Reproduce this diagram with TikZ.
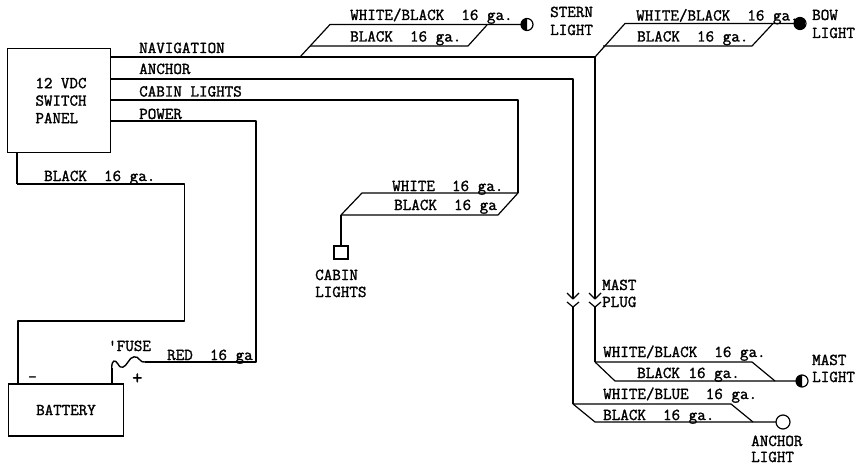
\documentclass[tikz,border=0pt]{standalone}
\usepackage{fontspec}
\setmonofont{Latin Modern Mono}[BoldFont={Latin Modern Mono},BoldFeatures={FakeBold=1.6}]
\newcommand{\gap}{\ \ }
\newcommand{\nudge}{\hspace*{4pt}}

\begin{document}
\begin{tikzpicture}[x=1pt,y=-1pt,
  wire/.style={line width=1.2pt,line join=round},
  heavywire/.style={line width=1.8pt,line join=round},
  unitbox/.style={draw,line width=1.5pt,inner sep=0pt,font=\ttfamily\bfseries\fontsize{16.5}{17.5}\selectfont,align=left},
  lbl/.style={anchor=base west,inner sep=0pt,font=\ttfamily\bfseries\fontsize{16.6}{16}\selectfont},
  lamp/.style={circle,draw,line width=1.2pt,minimum size=12pt,inner sep=0pt,outer sep=0pt,fill=white}]
\useasboundingbox (0,0) rectangle (866,465);

% Boxes
\node[unitbox,minimum width=103pt,minimum height=104pt] (panel) at (59,100.5) {\nudge 12 VDC\\\nudge SWITCH\\\nudge PANEL};
\node[unitbox,minimum width=115pt,minimum height=52pt] (battery) at (66,410) {BATTERY};
\node[draw,line width=1.2pt,minimum width=14pt,minimum height=13pt,inner sep=0pt] (cabinlamp) at (341,252.5) {};

% Lamps
\node[lamp] (sternlamp) at (527,24.5) {};
\node[lamp] (bowlamp) at (800,23.5) {};
\node[lamp] (mastlamp) at (802,381) {};
\node[lamp,minimum size=14pt] (anchorlamp) at (783,422) {};
\fill (sternlamp.north) arc[start angle=90,end angle=270,radius=6pt] -- cycle;
\fill (mastlamp.north) arc[start angle=90,end angle=270,radius=6pt] -- cycle;
\fill (bowlamp.35) arc[start angle=35,end angle=325,radius=6pt] -- cycle;

% Junction points
\coordinate (navturn) at (595,57);
\coordinate (anchorturn) at (573,79);
\coordinate (cabinturn) at (518,100);
\coordinate (powerturn) at (256,121);
\coordinate (sternfork) at (300,57);
\coordinate (plugupper) at (595,299);
\coordinate (pluglower) at (595,307);
\coordinate (anchorupper) at (573,299);
\coordinate (anchorlower) at (573,307);
\coordinate (mastfork) at (595,362);
\coordinate (anchorfork) at (573,404);
\coordinate (cabinfork) at (518,193);
\coordinate (cabinend) at (341,215);
\coordinate (fusetop) at (145,362);

% Runs from the panel
\draw[wire] (panel.east |- navturn) -- (navturn) -- (plugupper);
\draw[wire] (panel.east |- anchorturn) -- (anchorturn) -- (anchorupper);
\draw[wire] (panel.east |- cabinturn) -- (cabinturn) -- (cabinfork);
\draw[wire] (panel.east |- powerturn) -- (powerturn) -- (256,362) -- (fusetop);
\draw[heavywire] (17,152) -- (17,184);
\draw[wire] (17,184) -- (184.5,184) -- (184.5,321) -- (18,321) -- (18,384);

% Fuse
\draw[heavywire] (111.7,384) -- (111.7,368);
\draw[line width=1.4pt,line join=round] (111.7,368) .. controls (111.7,360) and (115,359) .. (118,364) .. controls (121,370) and (125,367) .. (128,362) .. controls (131,356) and (137,355) .. (140,360) .. controls (141,362) and (143,362) .. (fusetop);

% Mast plug
\draw[wire] (plugupper) ++(-6,-6) -- (plugupper) -- ++(6,-6);
\draw[wire] (pluglower) ++(-6,-5) -- (pluglower) -- ++(6,-5);
\draw[wire] (anchorupper) ++(-6,-6) -- (anchorupper) -- ++(6,-6);
\draw[wire] (anchorlower) ++(-6,-5) -- (anchorlower) -- ++(6,-5);
\draw[wire] (pluglower) -- (mastfork);
\draw[wire] (anchorlower) -- (anchorfork);

% Stern light
\draw[wire] (sternfork) -- (330,24.5) -- (sternlamp);
\draw[wire] (310,46) -- (468,46) -- (487,25);

% Bow light
\draw[wire] (navturn) -- (625,23.5) -- (bowlamp);
\draw[wire] (603,46) -- (752,46) -- (773,23.5);

% Cabin lights
\draw[wire] (cabinfork) -- (362,193) -- (cabinend);
\draw[wire] (cabinend) -- (498,215) -- (cabinfork);
\draw[heavywire] (cabinend) -- (cabinlamp);

% Mast light
\draw[wire] (mastfork) -- (752,362) -- (775,381);
\draw[wire] (mastfork) -- (615,381) -- (mastlamp);

% Anchor light
\draw[wire] (anchorfork) -- (731,404) -- (753,422);
\draw[wire] (anchorfork) -- (595,422) -- (anchorlamp);

% Labels
\node[lbl] (navlbl) at (139,53) {NAVIGATION};
\node[lbl] (anchorlbl) at (139,74) {ANCHOR};
\node[lbl] (cabinlbl) at (139,96.5) {CABIN LIGHTS};
\node[lbl] (powerlbl) at (139,119) {POWER};
\node[lbl] (blacklbl) at (44,181) {BLACK\gap 16 ga.};
\node[lbl] (fuselbl) at (108,351) {'FUSE};
\node[lbl] (redlbl) at (167,360) {RED\gap 16 ga};
\node[lbl] (minuslbl) at (28,382) {-};
\node[lbl,font=\ttfamily\bfseries\fontsize{20}{20}\selectfont] (pluslbl) at (132,384) {+};
\node[lbl] (sternwhite) at (350,20) {WHITE/BLACK\gap 16 ga.};
\node[lbl] (sternblack) at (350,41.5) {BLACK\gap 16 ga.};
\node[lbl] (sternlbla) at (550,17) {STERN};
\node[lbl] (sternlblb) at (550,35) {LIGHT};
\node[lbl] (bowwhite) at (636,20.5) {WHITE/BLACK\gap 16 ga.};
\node[lbl] (bowblack) at (637,41.5) {BLACK\gap 16 ga.};
\node[lbl] (bowlbla) at (812,20) {BOW};
\node[lbl] (bowlblb) at (812,38) {LIGHT};
\node[lbl] (cabinwhite) at (392,191) {WHITE\gap 16 ga.};
\node[lbl] (cabinblack) at (394,210) {BLACK\gap 16 ga};
\node[lbl] (cabinlbla) at (315,280) {CABIN};
\node[lbl] (cabinlblb) at (315,297) {LIGHTS};
\node[lbl] (pluglbla) at (602,290) {MAST};
\node[lbl] (pluglblb) at (602,307) {PLUG};
\node[lbl] (mastwhite) at (603,357) {WHITE/BLACK\gap 16 ga.};
\node[lbl] (mastblack) at (637,378) {BLACK 16 ga.};
\node[lbl] (mastlbla) at (812,365) {MAST};
\node[lbl] (mastlblb) at (812,382) {LIGHT};
\node[lbl] (anchorwhite) at (603,399) {WHITE/BLUE\gap 16 ga.};
\node[lbl] (anchorblack) at (603,420) {BLACK\gap 16 ga.};
\node[lbl] (anchorlbla) at (751,446) {ANCHOR};
\node[lbl] (anchorlblb) at (751,462) {LIGHT};
\end{tikzpicture}
\end{document}
